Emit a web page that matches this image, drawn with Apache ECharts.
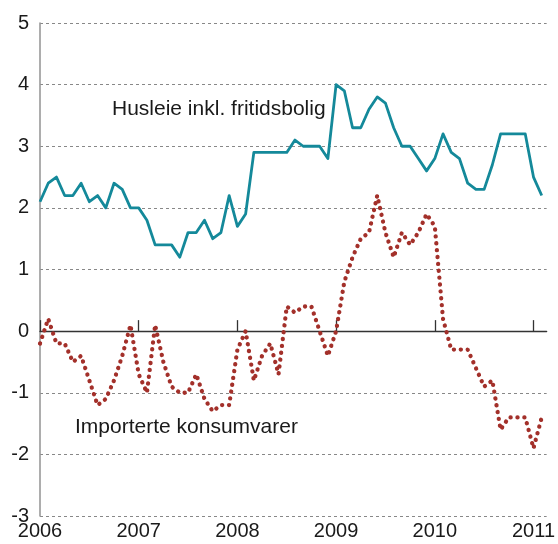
<!DOCTYPE html>
<html><head><meta charset="utf-8">
<script src="https://cdn.jsdelivr.net/npm/echarts@6/dist/echarts.min.js"></script>
<style>html,body{margin:0;padding:0;background:#fff}#c{width:558px;height:544px}</style>
</head><body><div id="c"></div>
<script>
// Monthly data, Jan 2006 .. Feb 2011 (12-month change, %)
const startYear = 2006;
const yearLabels = ['2006','2007','2008','2009','2010','2011'];
const yTickValues = [-3,-2,-1,0,1,2,3,4,5];
const husleieName = 'Husleie inkl. fritidsbolig';
const importName = 'Importerte konsumvarer';
const husleie = [
  2.1,2.4,2.5,2.2,2.2,2.4,2.1,2.2,2.0,2.4,2.3,2.0,
  2.0,1.8,1.4,1.4,1.4,1.2,1.6,1.6,1.8,1.5,1.6,2.2,
  1.7,1.9,2.9,2.9,2.9,2.9,2.9,3.1,3.0,3.0,3.0,2.8,
  4.0,3.9,3.3,3.3,3.6,3.8,3.7,3.3,3.0,3.0,2.8,2.6,
  2.8,3.2,2.9,2.8,2.4,2.3,2.3,2.7,3.2,3.2,3.2,3.2,
  2.5,2.2
];
const importerte = [
  -0.2,0.2,-0.2,-0.2,-0.5,-0.4,-0.8,-1.2,-1.1,-0.8,-0.4,0.1,
  -0.7,-1.0,0.1,-0.5,-0.9,-1.0,-1.0,-0.7,-1.1,-1.3,-1.2,-1.2,
  -0.3,0.0,-0.8,-0.4,-0.2,-0.7,0.4,0.3,0.4,0.4,0.0,-0.4,
  0.0,0.8,1.2,1.5,1.6,2.2,1.6,1.2,1.6,1.4,1.6,1.9,
  1.7,0.2,-0.3,-0.3,-0.3,-0.6,-0.9,-0.8,-1.6,-1.4,-1.4,-1.4,
  -1.9,-1.4
];

const yearTickValues = yearLabels.map((y) => (Number(y) - startYear) * 12);
const chart = echarts.init(document.getElementById('c'), null, {renderer: 'canvas'});
const font = 'Liberation Sans, Arial, sans-serif';
const xCommon = {
  type: 'value', min: 0, max: 61.6, interval: 12,
  splitLine: {show: false}
};
chart.setOption({
  animation: false,
  backgroundColor: '#ffffff',
  grid: {left: 40, right: 10, top: 23, bottom: 28, containLabel: false},
  xAxis: [
    Object.assign({}, xCommon, {
      position: 'bottom',
      axisLine: {show: true, onZero: true, lineStyle: {color: '#333', width: 1.3}},
      axisTick: {show: true, inside: true, length: 11, customValues: yearTickValues, lineStyle: {color: '#333', width: 1.3}},
      axisLabel: {show: false}
    }),
    Object.assign({}, xCommon, {
      position: 'bottom',
      axisLine: {show: false, onZero: false},
      axisTick: {show: false},
      axisLabel: {
        show: true, customValues: yearTickValues, margin: 5,
        fontFamily: font, fontSize: 20, color: '#1a1a1a',
        formatter: (v) => String(startYear + Math.round(v / 12))
      }
    })
  ],
  yAxis: {
    type: 'value', min: -3, max: 5, interval: 1, offset: 3,
    axisLine: {show: true, lineStyle: {color: '#999', width: 1.6}},
    axisTick: {show: false},
    splitLine: {show: true, lineStyle: {color: '#888', width: 1, type: [3, 3]}},
    axisLabel: {
      fontFamily: font, fontSize: 20, color: '#1a1a1a', margin: 8,
      customValues: yTickValues
    }
  },
  graphic: [
    {type: 'text', left: 112, top: 99, style: {text: husleieName, font: '21px ' + font, fill: '#1a1a1a'}},
    {type: 'text', left: 75, top: 417, style: {text: importName, font: '21px ' + font, fill: '#1a1a1a'}}
  ],
  series: [
    {
      name: husleieName, type: 'line', xAxisIndex: 0, symbol: 'none',
      data: husleie.map((v, i) => [i, v]),
      lineStyle: {color: '#14899a', width: 2.8, join: 'round'}
    },
    {
      name: importName, type: 'line', xAxisIndex: 0, symbol: 'none',
      data: importerte.map((v, i) => [i, v]),
      lineStyle: {color: '#a3302a', width: 4.3, type: [0.1, 6.8], cap: 'round'}
    }
  ]
});
</script>
</body></html>
